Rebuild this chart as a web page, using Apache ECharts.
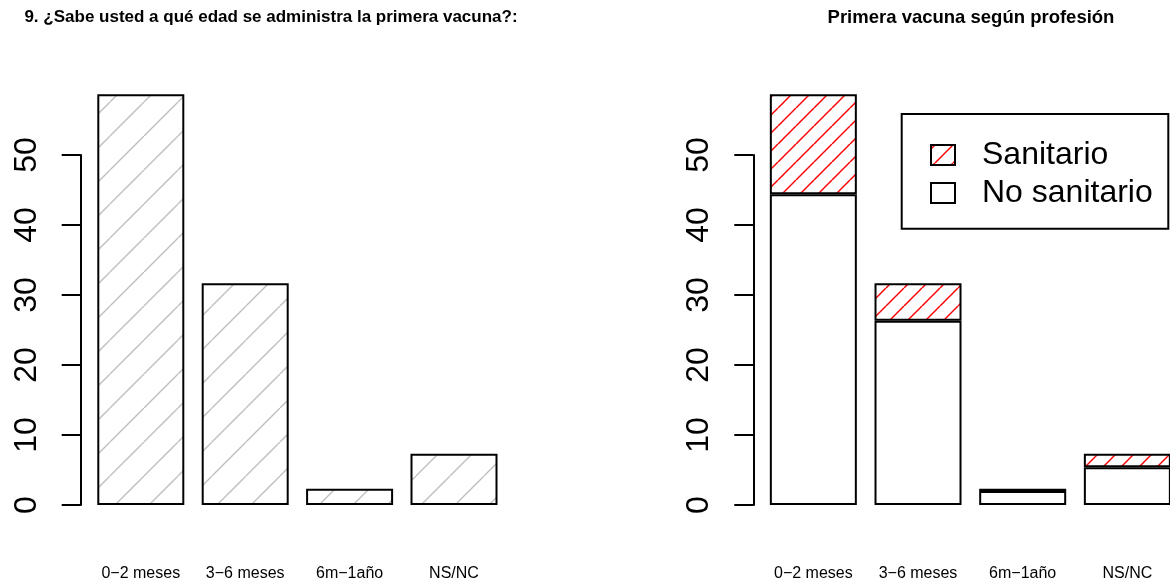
<!DOCTYPE html>
<html>
<head>
<meta charset="utf-8">
<script src="https://cdn.jsdelivr.net/npm/echarts@6/dist/echarts.min.js"></script>
<style>
html,body{margin:0;padding:0;background:#fff;}
#chart{width:1170px;height:584px;}
</style>
</head>
<body>
<div id="chart"></div>
<script>
// ---- data ----
const categories = ['0\u22122 meses', '3\u22126 meses', '6m\u22121a\u00f1o', 'NS/NC'];
const totalPct = [58.67, 31.67, 2.33, 7.33];
const noSanitario = [44.4, 26.33, 2.0, 5.4];
const sanitario = [14.27, 5.34, 0.33, 1.93];
const yTicks = [0, 10, 20, 30, 40, 50];
const titleLeft = '9. \u00bfSabe usted a qu\u00e9 edad se administra la primera vacuna?:';
const titleRight = 'Primera vacuna seg\u00fan profesi\u00f3n';
const legendNames = ['Sanitario', 'No sanitario'];

// ---- hatch patterns ----
function hatch(p, color, lw, c) {
  const cv = document.createElement('canvas');
  cv.width = p; cv.height = p;
  const ctx = cv.getContext('2d');
  ctx.fillStyle = '#fff';
  ctx.fillRect(0, 0, p, p);
  ctx.strokeStyle = color;
  ctx.lineWidth = lw;
  for (let k = -1; k <= 2; k++) {
    ctx.beginPath();
    ctx.moveTo(k * p + c, 0);
    ctx.lineTo(k * p + c - p, p);
    ctx.stroke();
  }
  return cv;
}
const greyHatch = hatch(34, '#bebebe', 1.3, 8);
const redHatch = hatch(18, '#ff0000', 1.5, 4);

const FONT = 'Liberation Sans, Arial, Helvetica, sans-serif';

function yAxisCfg(gridIndex, offset) {
  return {
    type: 'value', gridIndex: gridIndex, min: yTicks[0], max: yTicks[yTicks.length - 1], interval: 10,
    offset: offset,
    axisLine: { show: true, lineStyle: { color: '#000', width: 2 } },
    axisTick: { show: true, length: 19, lineStyle: { color: '#000', width: 2 } },
    splitLine: { show: false },
    axisLabel: { rotate: 90, margin: 38, fontSize: 32, color: '#000', fontFamily: FONT }
  };
}
function xAxisCfg(gridIndex) {
  return {
    type: 'category', gridIndex: gridIndex, data: categories,
    axisLine: { show: false }, axisTick: { show: false },
    axisLabel: { margin: 61, fontSize: 16, color: '#000', fontFamily: FONT, interval: 0 }
  };
}

const chart = echarts.init(document.getElementById('chart'), null, { renderer: 'canvas' });
chart.setOption({
  animation: false,
  backgroundColor: '#fff',
  title: [
    { text: titleLeft, left: 266, top: 4, textAlign: 'center', textStyle: { fontSize: 17, fontWeight: 'bold', color: '#000', fontFamily: FONT } },
    { text: titleRight, left: 966, top: 3, textAlign: 'center', textStyle: { fontSize: 18.5, fontWeight: 'bold', color: '#000', fontFamily: FONT } }
  ],
  grid: [
    { left: 88.6, width: 417.6, top: 155, height: 350, outerBoundsMode: 'none', containLabel: false },
    { left: 761, width: 418.7, top: 155, height: 350, outerBoundsMode: 'none', containLabel: false }
  ],
  xAxis: [xAxisCfg(0), xAxisCfg(1)],
  yAxis: [yAxisCfg(0, 7.9), yAxisCfg(1, 7.7)],
  legend: {
    data: legendNames, orient: 'vertical', left: 930, top: 137,
    icon: 'rect',
    itemWidth: 24, itemHeight: 20, itemGap: 2, padding: 0,
    textStyle: { fontSize: 32, color: '#000', fontFamily: FONT, padding: [0, 0, 0, 22], lineHeight: 36 }
  },
  graphic: [
    { type: 'rect', shape: { x: 901.7, y: 114, width: 266.6, height: 114.7 }, style: { fill: 'none', stroke: '#000', lineWidth: 2 }, silent: true }
  ],
  series: [
    {
      type: 'bar', name: 'Total', xAxisIndex: 0, yAxisIndex: 0, data: totalPct, barWidth: 87, clip: false,
      itemStyle: { color: { image: greyHatch, repeat: 'repeat' }, borderColor: '#000', borderWidth: 2 }
    },
    {
      type: 'bar', name: 'No sanitario', xAxisIndex: 1, yAxisIndex: 1, data: noSanitario, stack: 'p', barWidth: 87, clip: false,
      itemStyle: { color: '#fff', borderColor: '#000', borderWidth: 2 }
    },
    {
      type: 'bar', name: 'Sanitario', xAxisIndex: 1, yAxisIndex: 1, data: sanitario, stack: 'p', barWidth: 87, clip: false,
      itemStyle: { color: { image: redHatch, repeat: 'repeat' }, borderColor: '#000', borderWidth: 2 }
    }
  ]
});
</script>
</body>
</html>
